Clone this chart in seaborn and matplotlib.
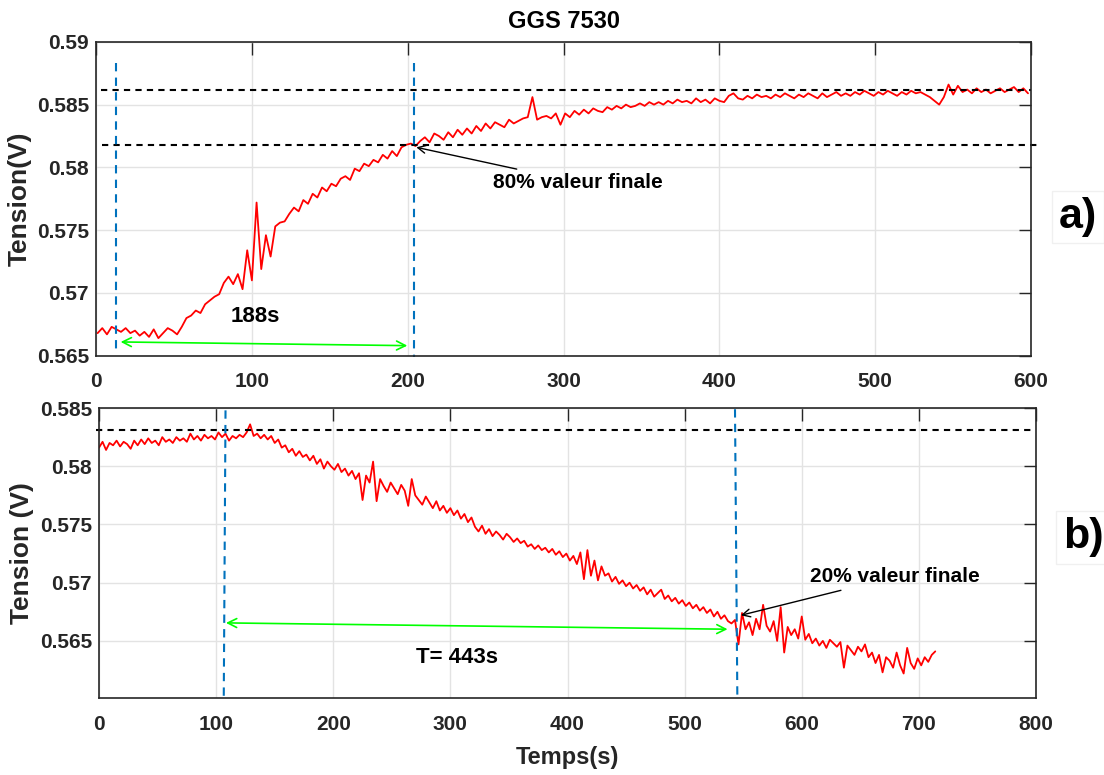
import numpy as np
import matplotlib
matplotlib.use("Agg")
import matplotlib.pyplot as plt
from matplotlib import font_manager
from matplotlib.ticker import FuncFormatter
import seaborn as sns

# --- data (voltages in units of 0.1 mV) ---
# a) GGS 7530 rise, sampled every 3 s from t=1 s
t_a = np.arange(1, 599, 3)
v_a = [
    5668, 5672, 5667, 5673, 5671, 5669, 5672, 5668, 5670, 5666,
    5669, 5665, 5671, 5664, 5668, 5672, 5670, 5667, 5673, 5680,
    5682, 5686, 5684, 5691, 5694, 5697, 5699, 5708, 5713, 5707,
    5715, 5703, 5734, 5710, 5772, 5719, 5746, 5729, 5753, 5756,
    5757, 5763, 5768, 5765, 5774, 5771, 5779, 5776, 5784, 5781,
    5787, 5785, 5791, 5793, 5790, 5799, 5797, 5803, 5801, 5806,
    5804, 5810, 5807, 5813, 5809, 5816, 5818, 5819, 5817, 5821,
    5824, 5820, 5827, 5825, 5822, 5828, 5824, 5830, 5826, 5831,
    5827, 5833, 5829, 5835, 5831, 5836, 5834, 5832, 5838, 5835,
    5837, 5839, 5840, 5856, 5838, 5840, 5841, 5839, 5843, 5834,
    5843, 5840, 5845, 5842, 5846, 5843, 5847, 5845, 5844, 5848,
    5846, 5849, 5847, 5850, 5848, 5849, 5851, 5849, 5852, 5850,
    5852, 5850, 5853, 5851, 5854, 5852, 5853, 5851, 5855, 5852,
    5854, 5851, 5855, 5853, 5852, 5857, 5859, 5855, 5854, 5857,
    5855, 5858, 5856, 5857, 5855, 5858, 5856, 5859, 5857, 5855,
    5858, 5856, 5859, 5857, 5855, 5859, 5856, 5858, 5860, 5857,
    5859, 5857, 5860, 5858, 5861, 5859, 5857, 5860, 5858, 5861,
    5859, 5857, 5860, 5858, 5861, 5859, 5860, 5858, 5856, 5853,
    5850, 5856, 5866, 5858, 5865, 5860, 5862, 5859, 5863, 5860,
    5862, 5859, 5861, 5863, 5860, 5862, 5864, 5860, 5863, 5859,
]
# b) decay, sampled every 3 s from t=0 s
t_b = np.arange(0, 715, 3)
v_b = [
    5816, 5821, 5814, 5820, 5818, 5822, 5817, 5821, 5819, 5815,
    5822, 5818, 5823, 5819, 5824, 5820, 5822, 5818, 5825, 5821,
    5823, 5820, 5825, 5822, 5824, 5821, 5828, 5823, 5826, 5822,
    5827, 5824, 5826, 5823, 5829, 5825, 5828, 5822, 5826, 5824,
    5827, 5825, 5829, 5836, 5826, 5828, 5824, 5827, 5823, 5826,
    5820, 5823, 5816, 5818, 5812, 5815, 5809, 5813, 5808, 5810,
    5805, 5809, 5802, 5806, 5798, 5804, 5800, 5797, 5802, 5795,
    5798, 5792, 5796, 5789, 5794, 5771, 5792, 5786, 5804, 5770,
    5789, 5783, 5778, 5786, 5781, 5776, 5784, 5779, 5766, 5789,
    5775, 5771, 5767, 5774, 5769, 5764, 5770, 5762, 5766, 5760,
    5764, 5758, 5762, 5755, 5759, 5752, 5756, 5748, 5744, 5749,
    5742, 5746, 5740, 5744, 5741, 5737, 5742, 5739, 5735, 5738,
    5734, 5736, 5731, 5733, 5729, 5732, 5728, 5730, 5726, 5729,
    5724, 5727, 5722, 5725, 5719, 5723, 5716, 5726, 5703, 5728,
    5706, 5719, 5702, 5714, 5706, 5708, 5701, 5705, 5699, 5702,
    5697, 5700, 5695, 5698, 5693, 5696, 5690, 5694, 5688, 5691,
    5694, 5686, 5689, 5684, 5687, 5682, 5685, 5680, 5683, 5678,
    5681, 5676, 5679, 5674, 5677, 5671, 5675, 5669, 5672, 5667,
    5665, 5668, 5647, 5674, 5660, 5666, 5655, 5669, 5660, 5681,
    5663, 5658, 5667, 5650, 5679, 5640, 5662, 5655, 5660, 5652,
    5671, 5651, 5656, 5648, 5652, 5646, 5650, 5644, 5651, 5648,
    5645, 5649, 5627, 5646, 5642, 5638, 5645, 5641, 5647, 5636,
    5640, 5631, 5638, 5623, 5636, 5633, 5627, 5640, 5629, 5622,
    5644, 5631, 5626, 5635, 5629, 5636, 5632, 5638, 5641,
]
v_a = np.array(v_a) / 10000.0
v_b = np.array(v_b) / 10000.0

final_a, level80 = 0.5862, 0.5818
start_b = 0.5831
yticks_a = [0.565, 0.57, 0.575, 0.58, 0.585, 0.59]
yticks_b = [0.565, 0.57, 0.575, 0.58, 0.585]

# --- fonts ---
names = {f.name for f in font_manager.fontManager.ttflist}
narrow = "Liberation Sans Narrow" if "Liberation Sans Narrow" in names else "Liberation Sans"

sns.set_theme(style="whitegrid")
plt.rcParams["font.family"] = [narrow, "DejaVu Sans"]
plt.rcParams["font.weight"] = "bold"

fig = plt.figure(figsize=(11.04, 7.75), dpi=100)
ax1 = fig.add_axes([0.087, 0.541, 0.847, 0.405])
ax2 = fig.add_axes([0.0897, 0.0994, 0.8487, 0.3741])

def matlab_style(ax):
    ax.set_facecolor("white")
    for s in ax.spines.values():
        s.set_color("#262626")
        s.set_linewidth(1.2)
        s.set_visible(True)
    ax.grid(True, color="#e3e3e3", lw=1.0)
    ax.tick_params(direction="in", length=9, width=1, color="#262626",
                   top=True, right=True, labelsize=15, labelcolor="#262626")
    ax.tick_params(axis="x", pad=12)
    ax.tick_params(axis="y", pad=5)
    ax.yaxis.set_major_formatter(FuncFormatter(lambda v, p: f"{v:.3f}".rstrip("0")))

dash_k = (0, (3, 2.5))
dash_b = (0, (4, 3))

# a)
sns.lineplot(x=t_a, y=v_a, ax=ax1, color="red", lw=1.3)
matlab_style(ax1)
ax1.set_xlim(0, 600)
ax1.set_ylim(0.565, 0.59)
ax1.set_xticks(range(0, 601, 100))
ax1.set_yticks(yticks_a)
ax1.set_ylabel("Tension(V)", family="Liberation Sans", fontsize=19, fontweight="bold")
ax1.yaxis.set_label_coords(-0.069, 0.5)
ax1.text(0.5, 1.064, "GGS 7530", transform=ax1.transAxes, ha="center", va="center",
         fontsize=17, fontweight="bold", color="black")

ax1.plot([3, 600], [final_a, final_a], ls=dash_k, color="black", lw=1.5, clip_on=False)
ax1.plot([4, 604.5], [level80, level80], ls=dash_k, color="black", lw=1.5, clip_on=False)
ax1.plot([13, 13], [0.5883, 0.5653], ls=dash_b, color="#0072BD", lw=1.5, clip_on=False)
ax1.plot([204, 204], [0.5883, 0.5649], ls=dash_b, color="#0072BD", lw=1.5, clip_on=False)
ax1.annotate("", xy=(201.5, 0.5658), xytext=(14, 0.5661),
             arrowprops=dict(arrowstyle="<->", color="#00ff00", lw=1.2, mutation_scale=16))
ax1.text(102, 0.5681, "188s", ha="center", va="center", fontsize=16, fontweight="bold",
         color="black")
ax1.annotate("80% valeur finale", xy=(205.5, 0.5816), xytext=(255, 0.5788),
             ha="left", va="center", fontsize=15, fontweight="bold", color="black",
             arrowprops=dict(arrowstyle="->", color="black", lw=1, mutation_scale=14,
                             shrinkA=2, shrinkB=0))

# b)
sns.lineplot(x=t_b, y=v_b, ax=ax2, color="red", lw=1.3)
matlab_style(ax2)
ax2.set_xlim(0, 800)
ax2.set_ylim(0.5601, 0.585)
ax2.set_xticks(range(0, 801, 100))
ax2.set_yticks(yticks_b)
ax2.set_ylabel("Tension (V)", family="Liberation Sans", fontsize=19, fontweight="bold")
ax2.yaxis.set_label_coords(-0.069, 0.5)
ax2.set_xlabel("Temps(s)", fontsize=17, fontweight="bold", color="#262626")
ax2.xaxis.set_label_coords(0.5, -0.165)

ax2.plot([-3, 796], [start_b, start_b], ls=dash_k, color="black", lw=1.5, clip_on=False)
ax2.plot([108, 106.5], [0.5848, 0.5601], ls=dash_b, color="#0072BD", lw=1.5, clip_on=False)
ax2.plot([543, 545], [0.5849, 0.5602], ls=dash_b, color="#0072BD", lw=1.5, clip_on=False)
ax2.annotate("", xy=(539, 0.5660), xytext=(106, 0.56655),
             arrowprops=dict(arrowstyle="<->", color="#00ff00", lw=1.2, mutation_scale=16))
ax2.text(306, 0.5636, "T= 443s", ha="center", va="center", fontsize=16, fontweight="bold",
         color="black")
ax2.annotate("20% valeur finale", xy=(548, 0.5672), xytext=(607, 0.5705),
             ha="left", va="center", fontsize=15, fontweight="bold", color="black",
             arrowprops=dict(arrowstyle="->", color="black", lw=1, mutation_scale=14,
                             shrinkA=2, shrinkB=0))

# panel letters
box = dict(boxstyle="square,pad=0.15", fc="white", ec="#f0f0f0", lw=1)
fig.text(0.9765, 0.72, "a)", ha="center", va="center", fontsize=31, fontweight="bold",
         color="black", bbox=box)
fig.text(0.981, 0.307, "b)", ha="center", va="center", fontsize=31, fontweight="bold",
         color="black", bbox=box)

fig.savefig("out.png", dpi=100)
